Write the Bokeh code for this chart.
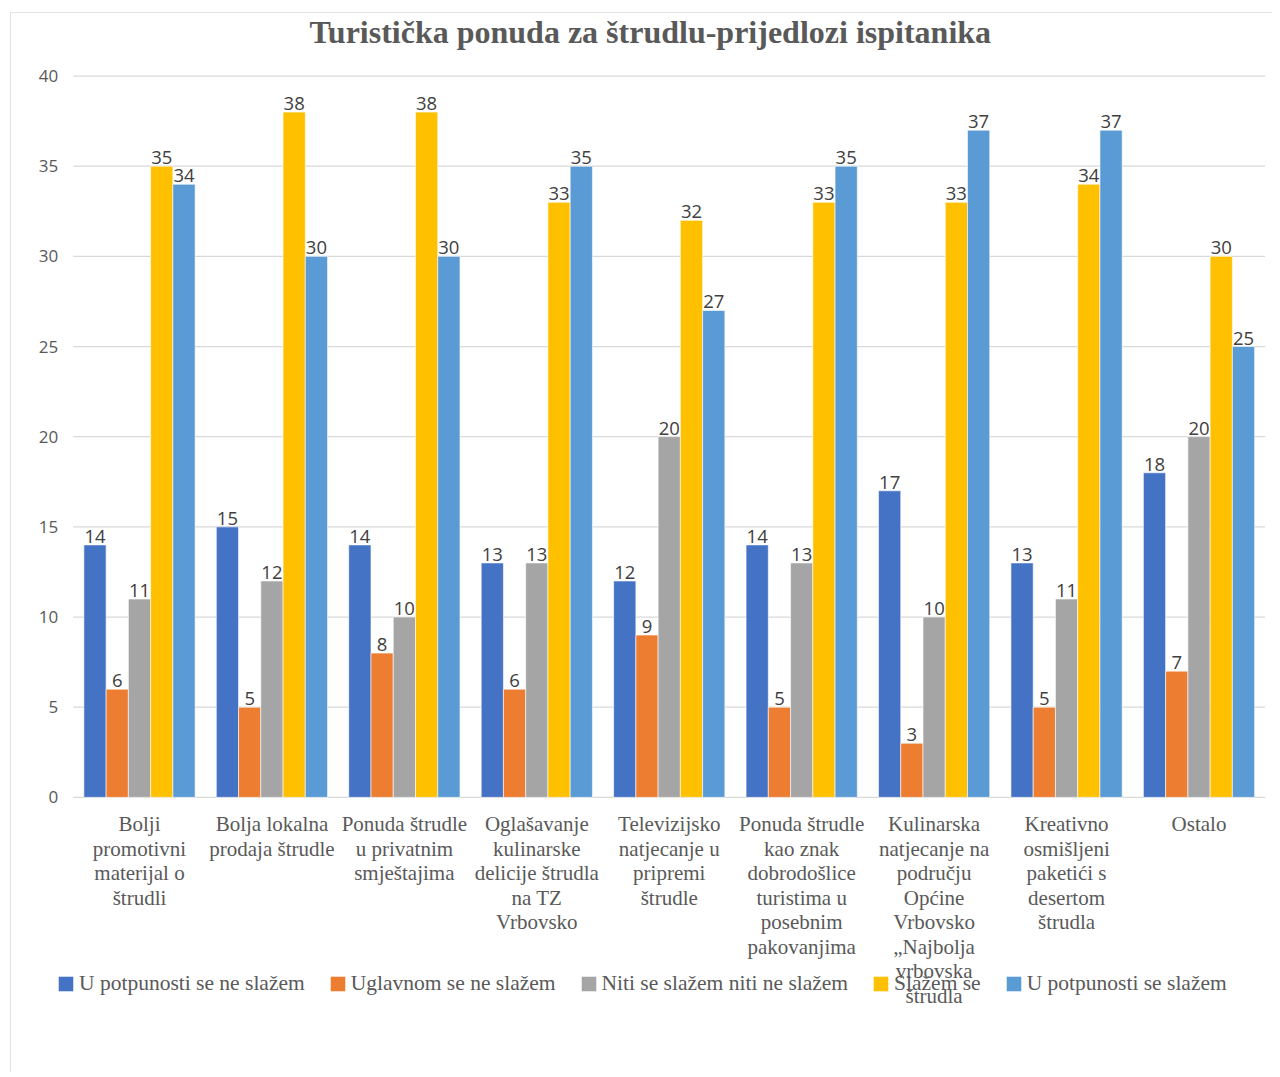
from bokeh.plotting import figure
from bokeh.models import Range1d, ColumnDataSource, Legend, LegendItem
from bokeh.transform import dodge
from bokeh.core.properties import value
from bokeh.embed import file_html
from bokeh.resources import INLINE

title_text = "Turistička ponuda za štrudlu-prijedlozi ispitanika"
categories = [
    "Bolji\npromotivni\nmaterijal o\nštrudli",
    "Bolja lokalna\nprodaja štrudle",
    "Ponuda štrudle\nu privatnim\nsmještajima",
    "Oglašavanje\nkulinarske\ndelicije štrudla\nna TZ\nVrbovsko",
    "Televizijsko\nnatjecanje u\npripremi\nštrudle",
    "Ponuda štrudle\nkao znak\ndobrodošlice\nturistima u\nposebnim\npakovanjima",
    "Kulinarska\nnatjecanje na\npodručju\nOpćine\nVrbovsko\n„Najbolja\nvrbovska\nštrudla",
    "Kreativno\nosmišljeni\npaketići s\ndesertom\nštrudla",
    "Ostalo",
]

series_names = [
    "U potpunosti se ne slažem",
    "Uglavnom se ne slažem",
    "Niti se slažem niti ne slažem",
    "Slažem se",
    "U potpunosti se slažem",
]
s1 = [14, 15, 14, 13, 12, 14, 17, 13, 18]
s2 = [6, 5, 8, 6, 9, 5, 3, 5, 7]
s3 = [11, 12, 10, 13, 20, 13, 10, 11, 20]
s4 = [35, 38, 38, 33, 32, 33, 33, 34, 30]
s5 = [34, 30, 30, 35, 27, 35, 37, 37, 25]
series = [s1, s2, s3, s4, s5]
colors = ["#4472C4", "#ED7D31", "#A5A5A5", "#FFC000", "#5B9BD5"]
y_ticks = [0, 5, 10, 15, 20, 25, 30, 35, 40]
y_max = 40

n = len(categories)
idx = list(range(n))

# the frame spans the whole chart area, so title, y labels, category labels
# and legend are all drawn inside it
px_per_unit = 721 / 40.0
px_per_cat = 132.44
fig_left, fig_top = 11.5, 13.5
top_border = 1
y_high = y_max + (76 - (fig_top + top_border)) / px_per_unit
y_low = -(1065 - 797) / px_per_unit
x_low = -(139.5 - fig_left) / px_per_cat
x_high = (n - 1) + (1265.5 - 1199.0) / px_per_cat

p = figure(
    x_range=Range1d(x_low, x_high),
    y_range=Range1d(y_low, y_high),
    width=1262, height=1060,
    output_backend="svg", toolbar_location=None,
    min_border_left=0, min_border_right=8, min_border_top=top_border, min_border_bottom=8,
)
p.styles = {"margin-left": "10px", "margin-top": "12px",
            "border-left": "1.5px solid #E3E3E3", "border-top": "1.5px solid #E3E3E3"}
p.outline_line_color = None
p.background_fill_color = "white"
p.border_fill_color = "white"
p.xaxis.visible = False
p.yaxis.visible = False
p.xgrid.grid_line_color = None
p.ygrid.grid_line_color = None

# horizontal gridlines across the category span
p.segment(x0=-0.5, x1=n - 0.5, y0=y_ticks, y1=y_ticks, line_color="#D9D9D9", line_width=1.2)

# y tick labels
p.text(x=-0.5, y=y_ticks, text=[str(t) for t in y_ticks], x_offset=-15,
       text_align="right", text_baseline="middle", text_font=value("Open Sans"),
       text_font_size="17px", text_color="#595959")

bw = 0.168
offsets = [-2 * bw, -bw, 0.0, bw, 2 * bw]
src = {"x": idx, "k": categories}
for i, s in enumerate(series):
    src["s%d" % i] = s
    src["l%d" % i] = [str(v) for v in s]
source = ColumnDataSource(src)

items = []
for i in range(5):
    r = p.vbar(x=dodge("x", offsets[i]), top="s%d" % i, bottom=0, width=bw,
               fill_color=colors[i], line_color="white", line_width=0.6, source=source)
    items.append(LegendItem(label=series_names[i], renderers=[r]))
for i in range(5):
    p.text(x=dodge("x", offsets[i]), y="s%d" % i, text="l%d" % i,
           source=source, text_align="center", text_baseline="bottom", y_offset=-2,
           text_font=value("Open Sans"), text_font_size="18.5px", text_color="#404040",
           background_fill_color="white")

# category labels under the bars
p.text(x="x", y=0, text="k", source=source, text_align="center", text_baseline="top",
       y_offset=15, text_font=value("Liberation Serif"), text_font_size="21px",
       text_color="#595959", text_line_height=1.02)

# chart title above the top gridline
p.text(x=[(n - 1) / 2], y=[y_max], text=[title_text], text_align="center",
       text_baseline="middle", x_offset=-19, y_offset=-44,
       text_font=value("Liberation Serif"), text_font_size="32px", text_font_style="bold",
       text_color="#595959")

legend = Legend(items=items, orientation="horizontal", location=(45, 69),
                border_line_color=None, background_fill_alpha=0,
                label_text_font="Liberation Serif", label_text_font_size="21.5px",
                label_text_color="#595959", glyph_width=19, glyph_height=19,
                label_standoff=4, spacing=23, padding=0, margin=0)
p.add_layout(legend)

open("out.html", "w").write(file_html(p, INLINE))
